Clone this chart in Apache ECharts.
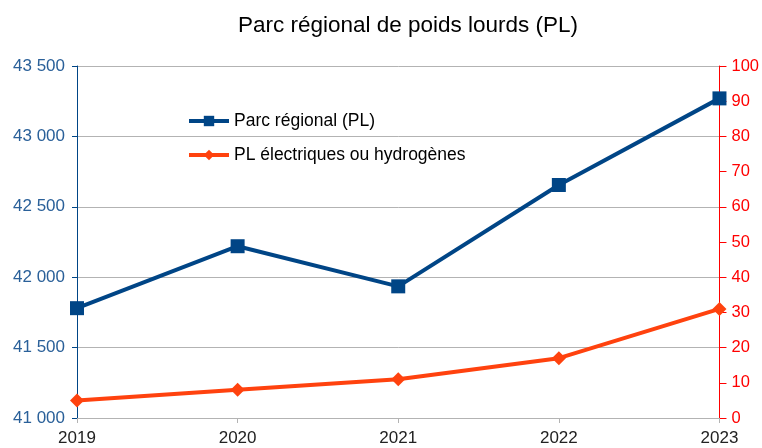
<!DOCTYPE html>
<html>
<head>
<meta charset="utf-8">
<script src="https://cdn.jsdelivr.net/npm/echarts@6/dist/echarts.min.js"></script>
<style>
  html, body { margin: 0; padding: 0; background: #fff; }
  #chart { width: 762px; height: 448px; }
</style>
</head>
<body>
<div id="chart"></div>
<script>
// données
const years = ['2019', '2020', '2021', '2022', '2023'];
const parcRegional = [41780, 42220, 41935, 42655, 43270];
const plElectriques = [5, 8, 11, 17, 31];

const blue = '#004586';
const orange = '#ff420e';
const red = '#ff0000';

const chart = echarts.init(document.getElementById('chart'));

const option = {
  animation: false,
  backgroundColor: '#fff',
  textStyle: { fontFamily: 'Liberation Sans' },
  title: {
    text: 'Parc régional de poids lourds (PL)',
    left: 403,
    top: 9,
    textAlign: 'center',
    textStyle: { fontSize: 22.5, fontWeight: 'normal', color: '#000', fontFamily: 'Liberation Sans' }
  },
  legend: {
    orient: 'vertical',
    left: 182,
    top: 107,
    itemGap: 16,
    itemWidth: 40,
    itemHeight: 13,
    lineStyle: { width: 4 },
    textStyle: { fontSize: 17.5, color: '#000', fontFamily: 'Liberation Sans' },
    data: ['Parc régional (PL)', 'PL électriques ou hydrogènes']
  },
  grid: { left: 77, right: 42, top: 66, bottom: 30 },
  xAxis: {
    type: 'category',
    data: years,
    boundaryGap: false,
    axisLine: { show: true, lineStyle: { color: '#b3b3b3' } },
    axisTick: { show: true, alignWithLabel: true, length: 5, lineStyle: { color: '#b3b3b3' } },
    axisLabel: { fontSize: 17, color: '#222', margin: 12 }
  },
  yAxis: [
    {
      type: 'value',
      min: 41000,
      max: 43500,
      interval: 500,
      axisLine: { show: true, lineStyle: { color: blue } },
      axisTick: { show: true, length: 5, lineStyle: { color: blue } },
      splitLine: { lineStyle: { color: '#b3b3b3' } },
      axisLabel: {
        fontSize: 17,
        color: '#2a6099',
        margin: 12,
        formatter: v => String(v).replace(/\B(?=(\d{3})+(?!\d))/g, ' ')
      }
    },
    {
      type: 'value',
      min: 0,
      max: 100,
      interval: 10,
      position: 'right',
      axisLine: { show: true, lineStyle: { color: red } },
      axisTick: { show: true, length: 7, lineStyle: { color: red } },
      splitLine: { show: false },
      axisLabel: { fontSize: 16.5, color: red, margin: 12 }
    }
  ],
  series: [
    {
      name: 'Parc régional (PL)',
      type: 'line',
      yAxisIndex: 0,
      data: parcRegional,
      symbol: 'rect',
      symbolSize: 14,
      lineStyle: { color: blue, width: 4 },
      itemStyle: { color: blue }
    },
    {
      name: 'PL électriques ou hydrogènes',
      type: 'line',
      yAxisIndex: 1,
      data: plElectriques,
      symbol: 'diamond',
      symbolSize: 14,
      lineStyle: { color: orange, width: 4 },
      itemStyle: { color: orange }
    }
  ]
};

chart.setOption(option);
</script>
</body>
</html>
